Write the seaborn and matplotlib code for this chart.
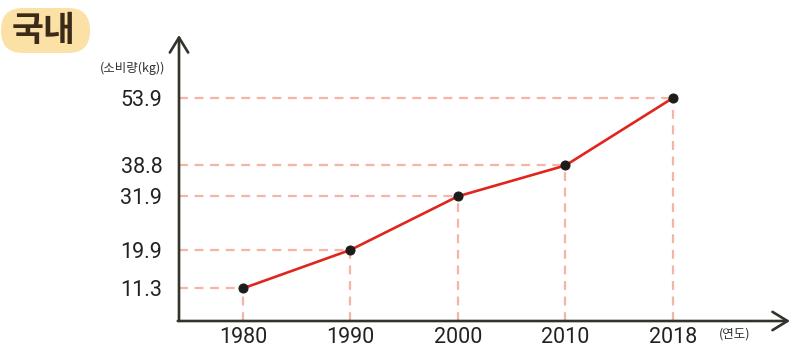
import matplotlib
matplotlib.use("Agg")
import matplotlib.pyplot as plt
import seaborn as sns
import pandas as pd
from matplotlib.patches import FancyBboxPatch

years = ["1980", "1990", "2000", "2010", "2018"]
consumption = [11.3, 19.9, 31.9, 38.8, 53.9]
title_text = "국내"
y_unit = "(소비량(kg))"
x_unit = "(연도)"

sns.set_theme(style="white")
plt.rcParams['font.family'] = ['Noto Sans CJK KR', 'DejaVu Sans']

df = pd.DataFrame({"year": years, "value": consumption})

fig = plt.figure(figsize=(7.99, 3.51), dpi=100)

bg = fig.add_axes([0, 0, 1, 1], zorder=0)
bg.set_xlim(0, 799)
bg.set_ylim(351, 0)
bg.axis("off")

ax = fig.add_axes([179/799, 30/351, (790-179)/799, (321-35)/351], zorder=1)
ax.patch.set_alpha(0)

axis_col = "#34332b"
guide_col = "#f6b3a6"
line_col = "#e0261c"

xs = list(range(len(years)))
ymin, ymax = 4.0, 68.0
xmin, xmax = -0.595, 5.09

for x, v in zip(xs, consumption):
    ax.plot([xmin, x], [v, v], color=guide_col, lw=1.6, ls=(0, (4, 3)), zorder=1)
    ax.plot([x, x], [ymin, v], color=guide_col, lw=1.6, ls=(0, (4, 3)), zorder=1)

sns.lineplot(data=df, x="year", y="value", ax=ax, color=line_col, lw=1.9,
             marker="o", markersize=6.5, markerfacecolor="#1e1b1b",
             markeredgecolor="#1e1b1b", zorder=3, sort=False)

ax.set_xlim(xmin, xmax)
ax.set_ylim(ymin, ymax)
for s in ax.spines.values():
    s.set_visible(False)

ax.set_xticks(xs)
ax.set_xticklabels(years, fontsize=15.5, color="#222222", family=['Roboto', 'DejaVu Sans'])
ax.set_yticks(consumption)
ax.set_yticklabels([f"{v:.1f}" for v in consumption], fontsize=15.5, color="#222222",
                   family=['Roboto', 'DejaVu Sans'])
ax.tick_params(axis="both", length=0)
ax.tick_params(axis="y", pad=12)
ax.tick_params(axis="x", pad=4)
ax.set_xlabel("")
ax.set_ylabel("")

arrow = dict(arrowstyle="->,head_length=0.9,head_width=0.55",
             color=axis_col, lw=1.9, shrinkA=0, shrinkB=0)
ax.annotate("", xy=(0, 1.0), xytext=(0, 0), xycoords="axes fraction",
            arrowprops=arrow, annotation_clip=False)
ax.annotate("", xy=(1.0, 0), xytext=(-0.002, 0), xycoords="axes fraction",
            arrowprops=arrow, annotation_clip=False)

pill = FancyBboxPatch((1, 8), 89, 45, boxstyle="round,pad=0,rounding_size=22",
                      facecolor="#fbe1a6", edgecolor="none")
bg.add_patch(pill)
bg.text(44, 31, title_text, fontsize=25, fontweight="black",
        color="#3b2a18", ha="center", va="center")

bg.text(133, 68, y_unit, fontsize=9, color="#333333", ha="center", va="center")
bg.text(735, 334, x_unit, fontsize=9, color="#333333", ha="center", va="center")

fig.savefig("out.png", dpi=100)
